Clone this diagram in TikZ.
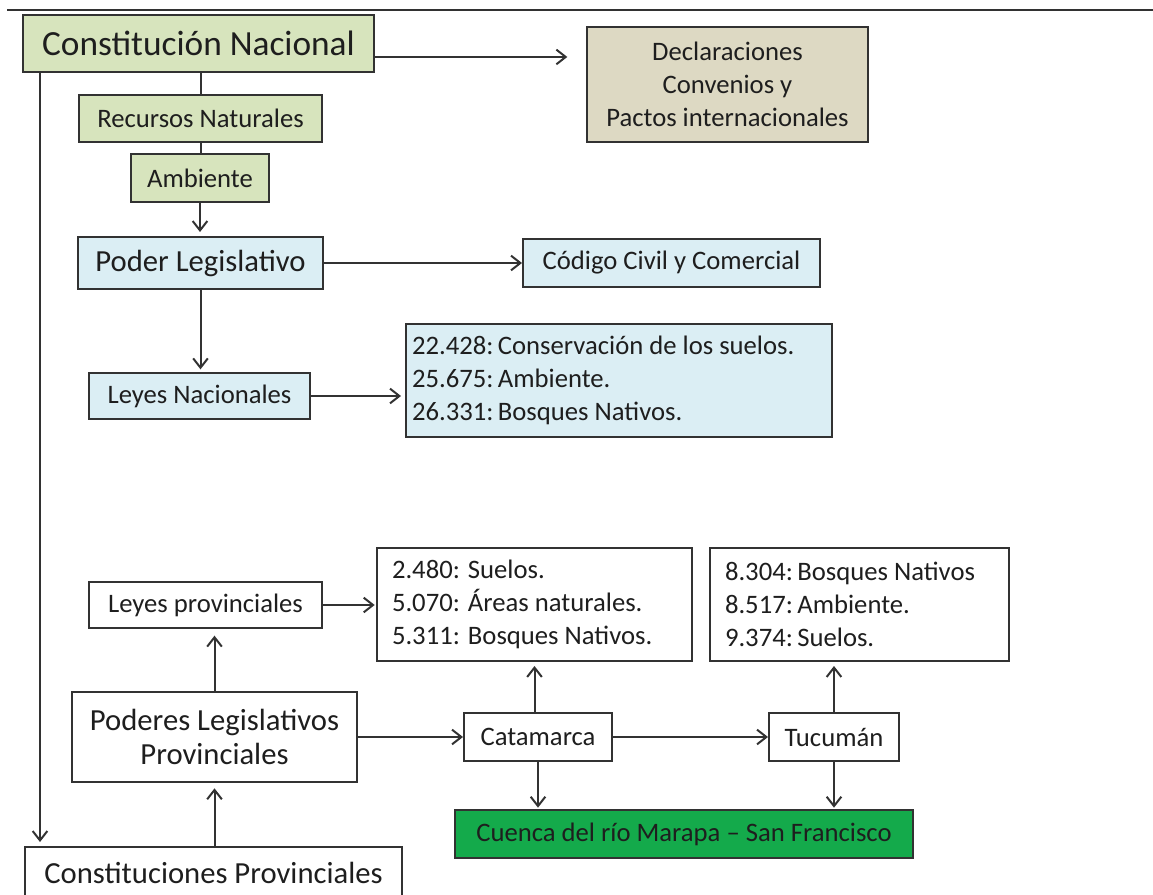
\documentclass[tikz,border=0pt]{standalone}
\usepackage{fontspec}
\setmainfont{Carlito}
\usetikzlibrary{arrows.meta}

\definecolor{trazo}{RGB}{50,50,50}
\definecolor{texto}{RGB}{30,30,30}
\definecolor{verdeclaro}{RGB}{215,228,189}
\definecolor{arena}{RGB}{221,217,195}
\definecolor{celeste}{RGB}{219,238,244}
\definecolor{verdecuenca}{RGB}{20,170,75}

\begin{document}
\begin{tikzpicture}[
  x=0.75pt, y=-0.75pt,
  every node/.style = {draw=trazo, line width=1.5pt, inner sep=0pt, text=texto, font=\fontsize{20}{24.5}\selectfont},
  grande/.style = {font=\fontsize{23}{26}\selectfont},
  verde/.style = {fill=verdeclaro},
  azul/.style = {fill=celeste},
  tratado/.style = {fill=arena, align=center},
  ley/.style = {align=flush left, inner xsep=11.25pt},
  flecha/.style = {draw=trazo, line width=1.5pt, shorten >=2pt, -{Straight Barb[length=7pt,width=11pt]}},
  tramo/.style = {draw=trazo, line width=1.5pt}
]
  \useasboundingbox (0,0) rectangle (1153,895);
  \draw[tramo] (7,10) -- (1153,10);

  % nivel nacional
  \node[verde, font=\fontsize{26.5}{30}\selectfont, minimum width=263.25pt, minimum height=42.75pt] (cn) at (198.5,43.5) {Constitución Nacional};
  \node[verde, minimum width=182.25pt, minimum height=35.25pt] (recursos) at (200.5,118.5) {Recursos Naturales};
  \node[verde, minimum width=103.5pt, minimum height=36pt] (ambiente) at (200,178) {Ambiente};
  \node[tratado, minimum width=210.75pt, minimum height=86.25pt] (tratados) at (727.5,84.5) {Declaraciones\\Convenios y\\Pactos internacionales};
  \node[azul, grande, minimum width=183.75pt, minimum height=39pt] (poder) at (200.5,263) {Poder Legislativo};
  \node[azul, minimum width=222.75pt, minimum height=36pt] (codigo) at (671.5,263) {Código Civil y Comercial};
  \node[azul, minimum width=165.75pt, minimum height=34.5pt] (leyesnac) at (199.5,396) {Leyes Nacionales};
  \node[azul, ley, inner xsep=4.5pt, text width=310.5pt, minimum height=84.75pt] (listanac) at (619,380.5)
    {22.428:\,Conservación de los suelos.\\25.675:\,Ambiente.\\26.331:\,Bosques Nativos.};

  % nivel provincial
  \node[minimum width=174.75pt, minimum height=34.5pt] (leyesprov) at (205.5,605) {Leyes provinciales};
  \node[ley, text width=213.75pt, minimum height=84.75pt] (listacat) at (534.5,604.5)
    {2.480: Suelos.\\5.070: Áreas naturales.\\5.311: Bosques Nativos.};
  \node[ley, text width=201.75pt, minimum height=84.75pt] (listatuc) at (859.5,604.5)
    {8.304:\,Bosques Nativos\\8.517:\,Ambiente.\\9.374:\,Suelos.};
  \node[grande, align=center, minimum width=213.75pt, minimum height=67.5pt] (poderprov) at (214.5,737) {Poderes Legislativos\\Provinciales};
  \node[minimum width=111pt, minimum height=36pt] (catamarca) at (538,737) {Catamarca};
  \node[minimum width=97.5pt, minimum height=36pt] (tucuman) at (834,737) {Tucumán};
  \node[fill=verdecuenca, minimum width=343.5pt, minimum height=36pt] (cuenca) at (684,834) {Cuenca del río Marapa – San Francisco};
  \node[grande, minimum width=282.75pt, minimum height=39pt] (constprov) at (213.5,873) {Constituciones Provinciales};

  \coordinate (cnsalida) at ([yshift=-10.1pt]cn.east);
  \coordinate (cnbajada) at ([xshift=13.5pt]cn.south west);

  \draw[flecha, shorten >=14pt] (cnsalida) -- (cnsalida -| tratados.west);
  \draw[flecha, shorten >=3pt] (cnbajada) -- (cnbajada |- constprov.north);
  \draw[tramo] (recursos.north |- cn.south) -- (recursos.north);
  \draw[tramo] (recursos.south) -- (recursos.south |- ambiente.north);
  \draw[flecha, shorten >=3pt] (ambiente.south) -- (ambiente.south |- poder.north);
  \draw[flecha, shorten >=0pt] (poder.east) -- (codigo.west);
  \draw[flecha] (poder.south) -- (poder.south |- leyesnac.north);
  \draw[flecha, shorten >=3pt] (leyesnac.east) -- (leyesnac.east -| listanac.west);

  \draw[flecha, shorten >=5pt] (poderprov.north) -- (poderprov.north |- leyesprov.south);
  \draw[flecha, shorten >=4pt] (poderprov.south |- constprov.north) -- (poderprov.south);
  \draw[flecha, shorten >=1pt] (leyesprov.east) -- (leyesprov.east -| listacat.west);
  \draw[flecha, shorten >=0pt] (poderprov.east |- catamarca.west) -- (catamarca.west);
  \draw[flecha, shorten >=0pt] (catamarca.east) -- (tucuman.west);
  \draw[flecha, shorten >=3pt] (listacat.south |- catamarca.north) -- (listacat.south);
  \draw[flecha, shorten >=3pt] (tucuman.north) -- (tucuman.north |- listatuc.south);
  \draw[flecha, shorten >=1pt] (catamarca.south) -- (catamarca.south |- cuenca.north);
  \draw[flecha, shorten >=1pt] (tucuman.south) -- (tucuman.south |- cuenca.north);
\end{tikzpicture}
\end{document}
